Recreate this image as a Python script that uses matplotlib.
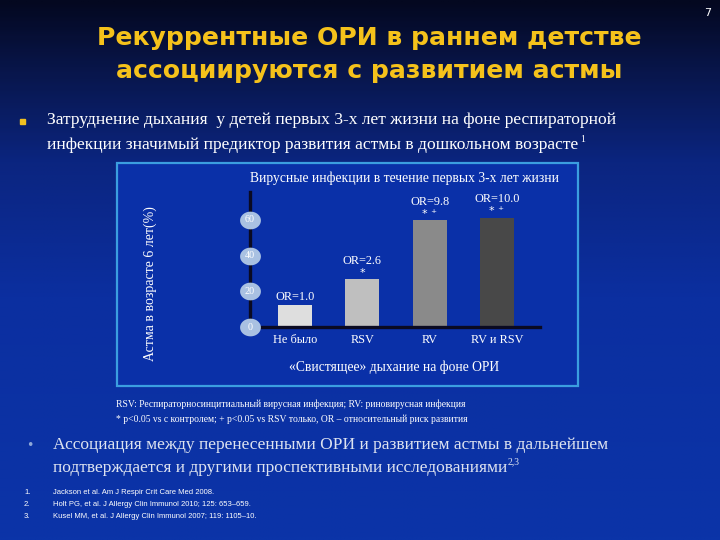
import numpy as np
import matplotlib
matplotlib.use("Agg")
import matplotlib.pyplot as plt
from matplotlib.path import Path
from matplotlib.transforms import blended_transform_factory
from matplotlib.colors import LinearSegmentedColormap

# ---- data ----
categories = ["Не было", "RSV", "RV", "RV и RSV"]
asthma_pct = [12.4, 26.7, 59.8, 61.0]
or_labels = ["OR=1.0", "OR=2.6", "OR=9.8", "OR=10.0"]
sig_marks = ["", "*", "* \u207a", "* \u207a"]
y_ticks = [0, 20, 40, 60]
bar_colors = ["#dedede", "#bfbfbf", "#8a8a8a", "#484848"]

title_lines = ["Рекуррентные ОРИ в раннем детстве", "ассоциируются с развитием астмы"]
bullet1 = ["Затруднение дыхания  у детей первых 3-х лет жизни на фоне респираторной",
           "инфекции значимый предиктор развития астмы в дошкольном возрасте"]
chart_title = "Вирусные инфекции в течение первых 3-х лет жизни"
ylabel = "Астма в возрасте 6 лет(%)"
xlabel = "«Свистящее» дыхание на фоне ОРИ"
notes = ["RSV: Респираторносинцитиальный вирусная инфекция; RV: риновирусная инфекция",
         "* p<0.05 vs с контролем; + p<0.05 vs RSV только, OR – относительный риск развития"]
bullet2 = ["Ассоциация между перенесенными ОРИ и развитием астмы в дальнейшем",
           "подтверждается и другими проспективными исследованиями"]
refs = ["Jackson et al. Am J Respir Crit Care Med 2008.",
        "Holt PG, et al. J Allergy Clin Immunol 2010; 125: 653–659.",
        "Kusel MM, et al. J Allergy Clin Immunol 2007; 119: 1105–10."]

W, H = 720, 540
fig = plt.figure(figsize=(7.2, 5.4), dpi=100)

# background
bg = fig.add_axes([0, 0, 1, 1])
bg.set_xlim(0, W)
bg.set_ylim(H, 0)
bg.axis("off")
cmap = LinearSegmentedColormap.from_list("bg", [(0, "#040820"), (0.12, "#081548"),
                                                (0.3, "#0b2580"), (0.55, "#0b2fa0"),
                                                (1, "#0b34a8")])
grad = np.linspace(0, 1, 300)[:, None] * np.ones((1, 10))
bg.imshow(grad, cmap=cmap, extent=[0, W, H, 0], aspect="auto", zorder=0)

serif = ["Liberation Serif", "DejaVu Serif"]

# page number
bg.text(708, 13, "7", color="white", fontsize=8, ha="center", va="center",
        family="DejaVu Sans")

# title
bg.text(369, 38, title_lines[0], color="#f5c21b", fontsize=18.1, fontweight="bold",
        ha="center", va="center", family="DejaVu Sans")
bg.text(369, 71, title_lines[1], color="#f5c21b", fontsize=18.1, fontweight="bold",
        ha="center", va="center", family="DejaVu Sans")

# bullet 1
bg.add_patch(plt.Rectangle((20, 118.5), 5, 5, color="#f0c020", zorder=3))
bg.text(47, 120, bullet1[0], color="white", fontsize=12.6, ha="left", va="center",
        family=serif)
bg.text(47, 145, bullet1[1], color="white", fontsize=12.6, ha="left", va="center",
        family=serif)
bg.text(580, 139, "1", color="white", fontsize=7, ha="left", va="center", family=serif)

# chart box
bg.add_patch(plt.Rectangle((116.5, 162.5), 461, 223, facecolor="#0a30a8",
                           edgecolor="#3b9ee0", lw=1.6, zorder=1))

bg.text(405, 178, chart_title, color="white", fontsize=9.8, ha="center", va="center",
        family=serif)
bg.text(150, 284, ylabel, color="white", fontsize=10, ha="center", va="center",
        rotation=90, family=serif)
bg.text(394, 367, xlabel, color="white", fontsize=9.8, ha="center", va="center",
        family=serif)

# notes
bg.text(116, 404, notes[0], color="white", fontsize=6.9, ha="left", va="center", family=serif)
bg.text(116, 419, notes[1], color="white", fontsize=6.9, ha="left", va="center", family=serif)

# bullet 2
bg.text(30, 446, "•", color="#8fa8d8", fontsize=9, ha="center", va="center")
bg.text(53, 445, bullet2[0], color="#dde3f0", fontsize=12.5, ha="left", va="center",
        family=serif)
bg.text(53, 468, bullet2[1], color="#dde3f0", fontsize=12.5, ha="left", va="center",
        family=serif)
bg.text(508, 462, "2,3", color="#dde3f0", fontsize=7, ha="left", va="center", family=serif)

# references
for i, r in enumerate(refs):
    y = 493 + i * 11.5
    bg.text(24, y, f"{i+1}.", color="white", fontsize=5.5, ha="left", va="center",
            family="Liberation Sans")
    bg.text(53, y, r, color="white", fontsize=5.5, ha="left", va="center",
            family="Liberation Sans")

# ---- bar chart axes ----
x0, x1, ytop, ybot = 250, 540, 192, 327
ax = fig.add_axes([x0 / W, 1 - ybot / H, (x1 - x0) / W, (ybot - ytop) / H])
ax.patch.set_alpha(0)
pos = np.arange(len(categories))
ax.bar(pos, asthma_pct, width=0.505, color=bar_colors, zorder=2)
ax.set_xlim(-0.669, 3.64)
ax.set_ylim(0, 75.7)
for s in ["top", "right"]:
    ax.spines[s].set_visible(False)
ax.spines["left"].set_color("#0a0a22")
ax.spines["bottom"].set_color("#0a0a22")
ax.spines["left"].set_linewidth(2.4)
ax.spines["bottom"].set_linewidth(2.4)
ax.set_yticks([])
ax.set_xticks(pos)
ax.set_xticklabels(categories, color="white", fontsize=8.8, family=serif)
ax.tick_params(axis="x", length=0, pad=5)

# elliptical tick markers
th = np.linspace(0, 2 * np.pi, 60)
ell = Path(np.column_stack([np.cos(th), 0.85 * np.sin(th)]), closed=True)
tr = blended_transform_factory(ax.transAxes, ax.transData)
ax.scatter([0] * len(y_ticks), y_ticks, marker=ell, s=225, color="#a9c1e2",
           transform=tr, clip_on=False, zorder=5, linewidths=0)
for v in y_ticks:
    ax.text(0, v, str(v), transform=tr, color="white", fontsize=7.3, ha="center",
            va="center", family=serif, zorder=6, clip_on=False)

# annotations
for p, v, o, s in zip(pos, asthma_pct, or_labels, sig_marks):
    if s:
        ax.text(p, v + 3.8, s, color="white", fontsize=8, ha="center", va="center",
                family="DejaVu Sans", clip_on=False)
        ax.text(p, v + 10.5, o, color="white", fontsize=8.8, ha="center", va="center",
                family=serif, clip_on=False)
    else:
        ax.text(p, v + 4.5, o, color="white", fontsize=8.8, ha="center", va="center",
                family=serif, clip_on=False)

fig.savefig("out.png", dpi=100)
